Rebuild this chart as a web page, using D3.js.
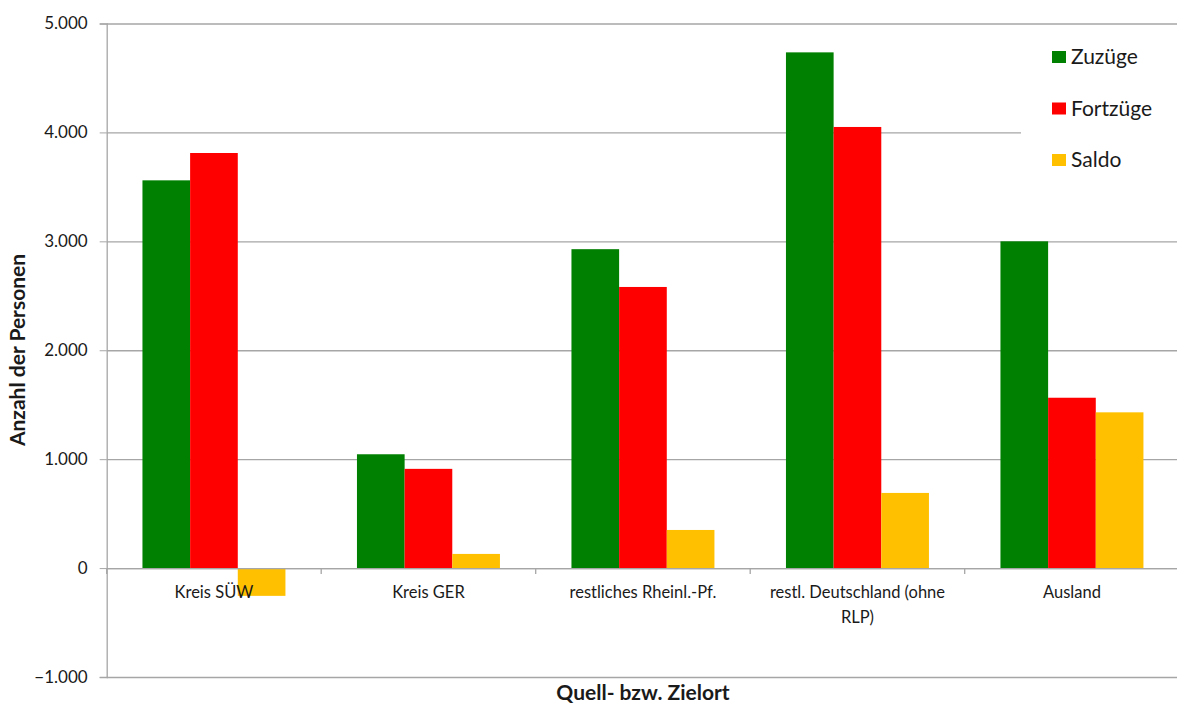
<!DOCTYPE html>
<html>
<head>
<meta charset="utf-8">
<script src="https://cdn.jsdelivr.net/npm/d3@7"></script>
<style>
  body { margin: 0; background: #fff; }
  text { font-family: Lato, "Open Sans", sans-serif; fill: #1a1a1a; }
</style>
</head>
<body>
<div id="chart"></div>
<script>
// data
const categories = ['Kreis SÜW', 'Kreis GER', 'restliches Rheinl.-Pf.', 'restl. Deutschland (ohne RLP)', 'Ausland']
const seriesNames = ['Zuzüge', 'Fortzüge', 'Saldo']
const zuzuege = [3560, 1045, 2928, 4735, 3000]
const fortzuege = [3811, 911, 2581, 4050, 1564]
const saldo = [-255, 130, 350, 690, 1430]
const yTicks = [-1000, 0, 1000, 2000, 3000, 4000, 5000]
const colors = ['#008000', '#ff0000', '#ffc000']

const W = 1177, H = 705
let margin = {top: 23.5, right: 0, bottom: 28, left: 106.7}
let pxX = 214.5 * 5, pxY = H - margin.top - margin.bottom

let svg = d3.select('#chart').append('svg').attr('width', W).attr('height', H)
let g = svg.append('g').attr('transform', `translate(${margin.left},${margin.top})`)

let de = d3.formatLocale({decimal: ',', thousands: '.', grouping: [3], currency: ['', '€']})
let fmt = de.format(',d')

let scY = d3.scaleLinear().domain([-1000, 5000]).range([pxY, 0])
let scX = d3.scaleBand().domain(categories).range([0, pxX]).paddingInner(0.3334).paddingOuter(0.1667)
let scSub = d3.scaleBand().domain(seriesNames).range([0, scX.bandwidth()])

// gridlines
let grid = d3.axisLeft(scY).tickValues(yTicks).tickSize(-pxX).tickFormat('')
g.append('g').call(grid)
  .call(s => s.select('.domain').remove())
  .selectAll('line').attr('stroke', '#a6a6a6').attr('stroke-width', 1.3)

// y axis
let yAxis = d3.axisLeft(scY).tickValues(yTicks).tickSize(7).tickPadding(12).tickFormat(fmt)
g.append('g').call(yAxis)
  .call(s => s.select('.domain').attr('stroke', '#a6a6a6').attr('stroke-width', 1.3))
  .call(s => s.selectAll('line').attr('stroke', '#a6a6a6'))
  .selectAll('text').style('font-size', '17px').attr('fill', '#1a1a1a')

// bars
let series = [zuzuege, fortzuege, saldo]
series.forEach((vals, si) => {
  g.append('g').selectAll('rect')
    .data(vals)
    .enter()
    .append('rect')
    .attr('x', (d, i) => scX(categories[i]) + scSub(seriesNames[si]))
    .attr('width', scSub.bandwidth())
    .attr('y', d => scY(Math.max(0, d)))
    .attr('height', d => Math.abs(scY(d) - scY(0)))
    .attr('fill', colors[si])
})

// category axis on the zero line
let xAxis = d3.axisBottom(scX).tickSize(0).tickPadding(18)
let xg = g.append('g').attr('transform', `translate(0,${scY(0)})`).call(xAxis)
xg.select('.domain').attr('stroke', '#a6a6a6').attr('stroke-width', 1.3)
xg.selectAll('text').style('font-size', '16.5px').attr('fill', '#1a1a1a')
  .each(function(d) {
    let t = d3.select(this)
    if (d === 'restl. Deutschland (ohne RLP)') {
      t.text('')
      t.append('tspan').attr('x', 0).attr('dy', '0.71em').text('restl. Deutschland (ohne')
      t.append('tspan').attr('x', 0).attr('dy', '1.5em').text('RLP)')
      t.attr('dy', null)
    }
  })
// tick marks between categories
g.append('g').selectAll('line')
  .data(d3.range(categories.length + 1))
  .enter().append('line')
  .attr('x1', i => i * scX.step()).attr('x2', i => i * scX.step())
  .attr('y1', scY(0)).attr('y2', scY(0) + 6)
  .attr('stroke', '#a6a6a6').attr('stroke-width', 1.3)

// legend
let lg = svg.append('g')
lg.append('rect').attr('x', 1021).attr('y', 28).attr('width', 160).attr('height', 160).attr('fill', '#fff')
seriesNames.forEach((n, i) => {
  let y = 57 + i * 51.5
  lg.append('rect').attr('x', 1052).attr('y', y - 6).attr('width', 14).attr('height', 12).attr('fill', colors[i])
  lg.append('text').attr('x', 1071).attr('y', y).attr('dy', '0.35em').style('font-size', '21px').text(n)
})

// axis titles
svg.append('text')
  .attr('transform', 'translate(25,350) rotate(-90)')
  .attr('text-anchor', 'middle')
  .style('font-size', '21px').style('font-weight', 'bold')
  .text('Anzahl der Personen')
svg.append('text')
  .attr('x', 643).attr('y', 700)
  .attr('text-anchor', 'middle')
  .style('font-size', '21px').style('font-weight', 'bold')
  .text('Quell- bzw. Zielort')
</script>
</body>
</html>
